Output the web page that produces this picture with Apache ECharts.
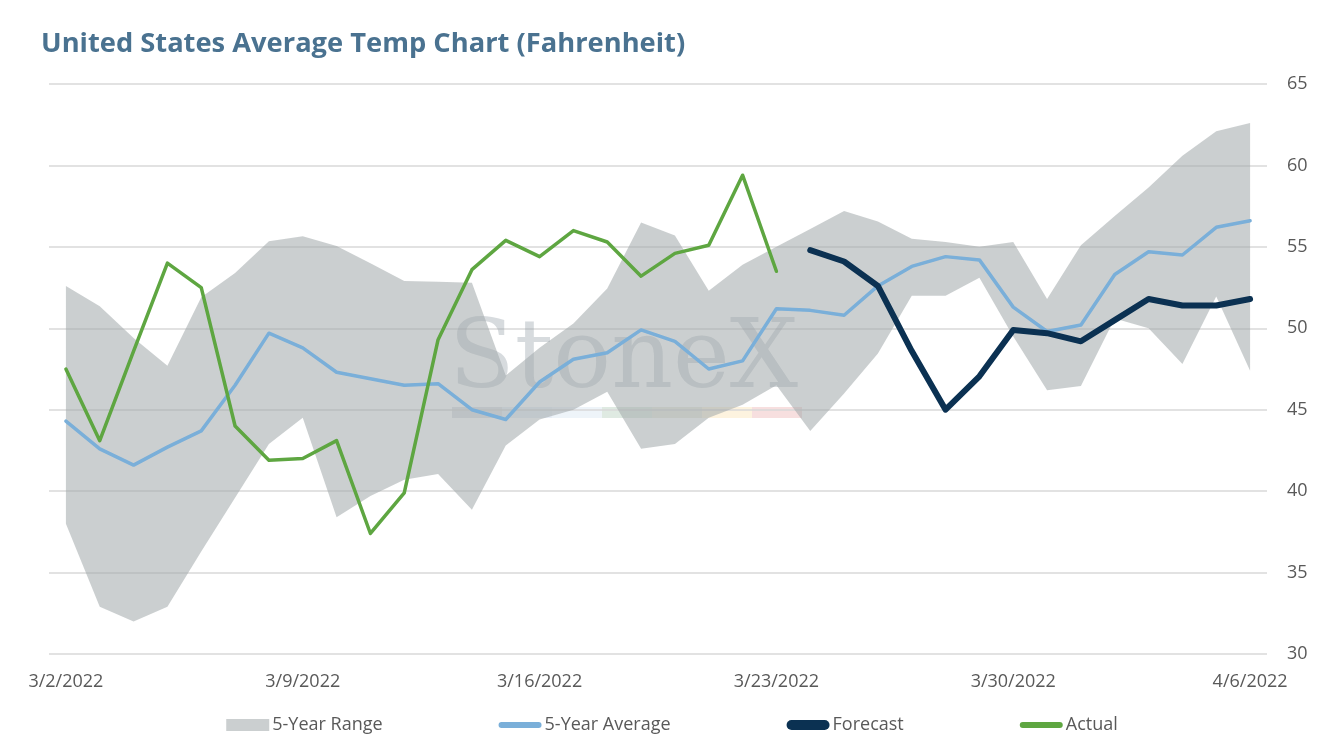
<!DOCTYPE html>
<html lang="en">

<head>
  <meta charset="UTF-8">
  <title>United States Average Temp Chart</title>
  <script src="https://cdn.jsdelivr.net/npm/echarts@6/dist/echarts.min.js"></script>
  <style>
    html, body { margin: 0; padding: 0; background: #fff; }
  </style>
</head>

<body>
  <div id="main" style="width: 1344px;height:750px;"></div>
  <script>
    // daily dates, 3/2/2022 .. 4/6/2022
    var dates = [
      '3/2/2022', '3/3/2022', '3/4/2022', '3/5/2022', '3/6/2022', '3/7/2022', '3/8/2022',
      '3/9/2022', '3/10/2022', '3/11/2022', '3/12/2022', '3/13/2022', '3/14/2022', '3/15/2022',
      '3/16/2022', '3/17/2022', '3/18/2022', '3/19/2022', '3/20/2022', '3/21/2022', '3/22/2022',
      '3/23/2022', '3/24/2022', '3/25/2022', '3/26/2022', '3/27/2022', '3/28/2022', '3/29/2022',
      '3/30/2022', '3/31/2022', '4/1/2022', '4/2/2022', '4/3/2022', '4/4/2022', '4/5/2022',
      '4/6/2022'
    ];

    var rangeLow = [38.0, 32.9, 32.0, 32.9, 36.3, 39.6, 42.9, 44.5, 38.4, 39.7, 40.7, 41.05,
      38.85, 42.8, 44.4, 45.0, 46.1, 42.6, 42.9, 44.5, 45.3, 46.5, 43.7, 46.0,
      48.45, 52.0, 52.0, 53.1, 49.5, 46.2, 46.45, 50.6, 50.0, 47.8, 51.95, 47.4];

    var rangeHigh = [52.6, 51.35, 49.4, 47.7, 51.9, 53.4, 55.35, 55.65, 55.05, 54.0, 52.9, 52.85,
      52.8, 47.1, 48.8, 50.3, 52.45, 56.5, 55.7, 52.3, 53.9, 55.0, 56.1, 57.2,
      56.55, 55.5, 55.3, 55.0, 55.3, 51.8, 55.1, 56.9, 58.65, 60.6, 62.1, 62.6];

    var avg5 = [44.3, 42.6, 41.6, 42.7, 43.7, 46.5, 49.7, 48.8, 47.3, 46.9, 46.5, 46.6,
      45.0, 44.4, 46.7, 48.1, 48.5, 49.9, 49.2, 47.5, 48.0, 51.2, 51.1, 50.8,
      52.6, 53.8, 54.4, 54.2, 51.3, 49.8, 50.2, 53.3, 54.7, 54.5, 56.2, 56.6];

    var forecast = [null, null, null, null, null, null, null, null, null, null, null, null,
      null, null, null, null, null, null, null, null, null, null, 54.8, 54.1,
      52.6, 48.6, 45.0, 47.05, 49.9, 49.7, 49.2, 50.5, 51.8, 51.4, 51.4, 51.8];

    var actual = [47.5, 43.1, 48.6, 54.0, 52.5, 44.0, 41.9, 42.0, 43.1, 37.4, 39.9, 49.3,
      53.6, 55.4, 54.4, 56.0, 55.3, 53.2, 54.6, 55.1, 59.4, 53.5, null, null,
      null, null, null, null, null, null, null, null, null, null, null, null];

    var yTicks = { min: 30, max: 65, step: 5 };

    // stacked band: invisible base + (high - low)
    var rangeSpan = rangeHigh.map(function (v, i) { return +(v - rangeLow[i]).toFixed(2); });

    var myChart = echarts.init(document.getElementById('main'));

    var font = '"Open Sans", sans-serif';

    // legend line icons (rounded bars of different thickness)
    var thinBar = 'path://M3,0H40A3,3 0 0 1 40,6H3A3,3 0 0 1 3,0Z';
    var thickBar = 'path://M5,0H38A5,5 0 0 1 38,10H5A5,5 0 0 1 5,0Z';

    const option = {
      animation: false,
      title: {
        text: 'United States Average Temp Chart (Fahrenheit)',
        left: 36,
        top: 26,
        textStyle: { color: '#4a7290', fontSize: 27.3, fontWeight: 'bold', fontFamily: font }
      },
      legend: {
        bottom: 11,
        left: 'center',
        itemGap: 116,
        itemWidth: 43,
        itemHeight: 12,
        symbolKeepAspect: true,
        textStyle: { color: '#595959', fontSize: 18, fontFamily: font, padding: [0, 0, 0, -2] },
        data: [
          { name: '5-Year Range', icon: 'rect' },
          { name: '5-Year Average', icon: thinBar },
          { name: 'Forecast', icon: thickBar },
          { name: 'Actual', icon: thinBar }
        ]
      },
      grid: { left: 49, right: 77, top: 84, bottom: 96 },
      xAxis: {
        type: 'category',
        data: dates,
        boundaryGap: true,
        axisLine: { show: false },
        axisTick: { show: false },
        axisLabel: { interval: 6, color: '#595959', fontSize: 18, fontFamily: font, margin: 19 }
      },
      yAxis: {
        type: 'value',
        position: 'right',
        min: yTicks.min,
        max: yTicks.max,
        interval: yTicks.step,
        axisLine: { show: false },
        axisTick: { show: false },
        axisLabel: { color: '#595959', fontSize: 18, fontFamily: font, margin: 20 },
        splitLine: { lineStyle: { color: '#d9d9d9', width: 1.5 } }
      },
      graphic: [
        // StoneX watermark
        {
          type: 'text', left: 449, top: 314, silent: true, z: 1,
          style: { text: 'StoneX', font: '96px "DejaVu Serif"', fill: 'rgba(150,160,168,0.38)' }
        },
        { type: 'rect', shape: { x: 452, y: 407, width: 50, height: 11 }, silent: true, style: { fill: 'rgba(150,160,168,0.3)' } },
        { type: 'rect', shape: { x: 502, y: 407, width: 50, height: 11 }, silent: true, style: { fill: 'rgba(180,200,225,0.3)' } },
        { type: 'rect', shape: { x: 552, y: 407, width: 50, height: 11 }, silent: true, style: { fill: 'rgba(200,220,235,0.3)' } },
        { type: 'rect', shape: { x: 602, y: 407, width: 50, height: 11 }, silent: true, style: { fill: 'rgba(150,185,160,0.3)' } },
        { type: 'rect', shape: { x: 652, y: 407, width: 50, height: 11 }, silent: true, style: { fill: 'rgba(190,185,150,0.3)' } },
        { type: 'rect', shape: { x: 702, y: 407, width: 50, height: 11 }, silent: true, style: { fill: 'rgba(250,215,150,0.3)' } },
        { type: 'rect', shape: { x: 752, y: 407, width: 50, height: 11 }, silent: true, style: { fill: 'rgba(230,150,150,0.3)' } }
      ],
      series: [
        {
          name: 'low',
          type: 'line',
          stack: 'range',
          data: rangeLow,
          symbol: 'none',
          silent: true,
          lineStyle: { opacity: 0 },
          z: 2
        },
        {
          name: '5-Year Range',
          type: 'line',
          stack: 'range',
          data: rangeSpan,
          symbol: 'none',
          silent: true,
          lineStyle: { opacity: 0 },
          itemStyle: { color: '#cbcfd0' },
          areaStyle: { color: 'rgba(160,167,169,0.55)', opacity: 1 },
          z: 2
        },
        {
          name: '5-Year Average',
          type: 'line',
          data: avg5,
          symbol: 'none',
          itemStyle: { color: '#7aafd9' },
          lineStyle: { color: '#7aafd9', width: 3.5, cap: 'round', join: 'round' },
          z: 3
        },
        {
          name: 'Forecast',
          type: 'line',
          data: forecast,
          symbol: 'none',
          itemStyle: { color: '#0b3152' },
          lineStyle: { color: '#0b3152', width: 6, cap: 'round', join: 'round' },
          z: 4
        },
        {
          name: 'Actual',
          type: 'line',
          data: actual,
          symbol: 'none',
          itemStyle: { color: '#5ea641' },
          lineStyle: { color: '#5ea641', width: 3.5, cap: 'round', join: 'round' },
          z: 5
        }
      ]
    };

    myChart.setOption(option);
  </script>
</body>

</html>
